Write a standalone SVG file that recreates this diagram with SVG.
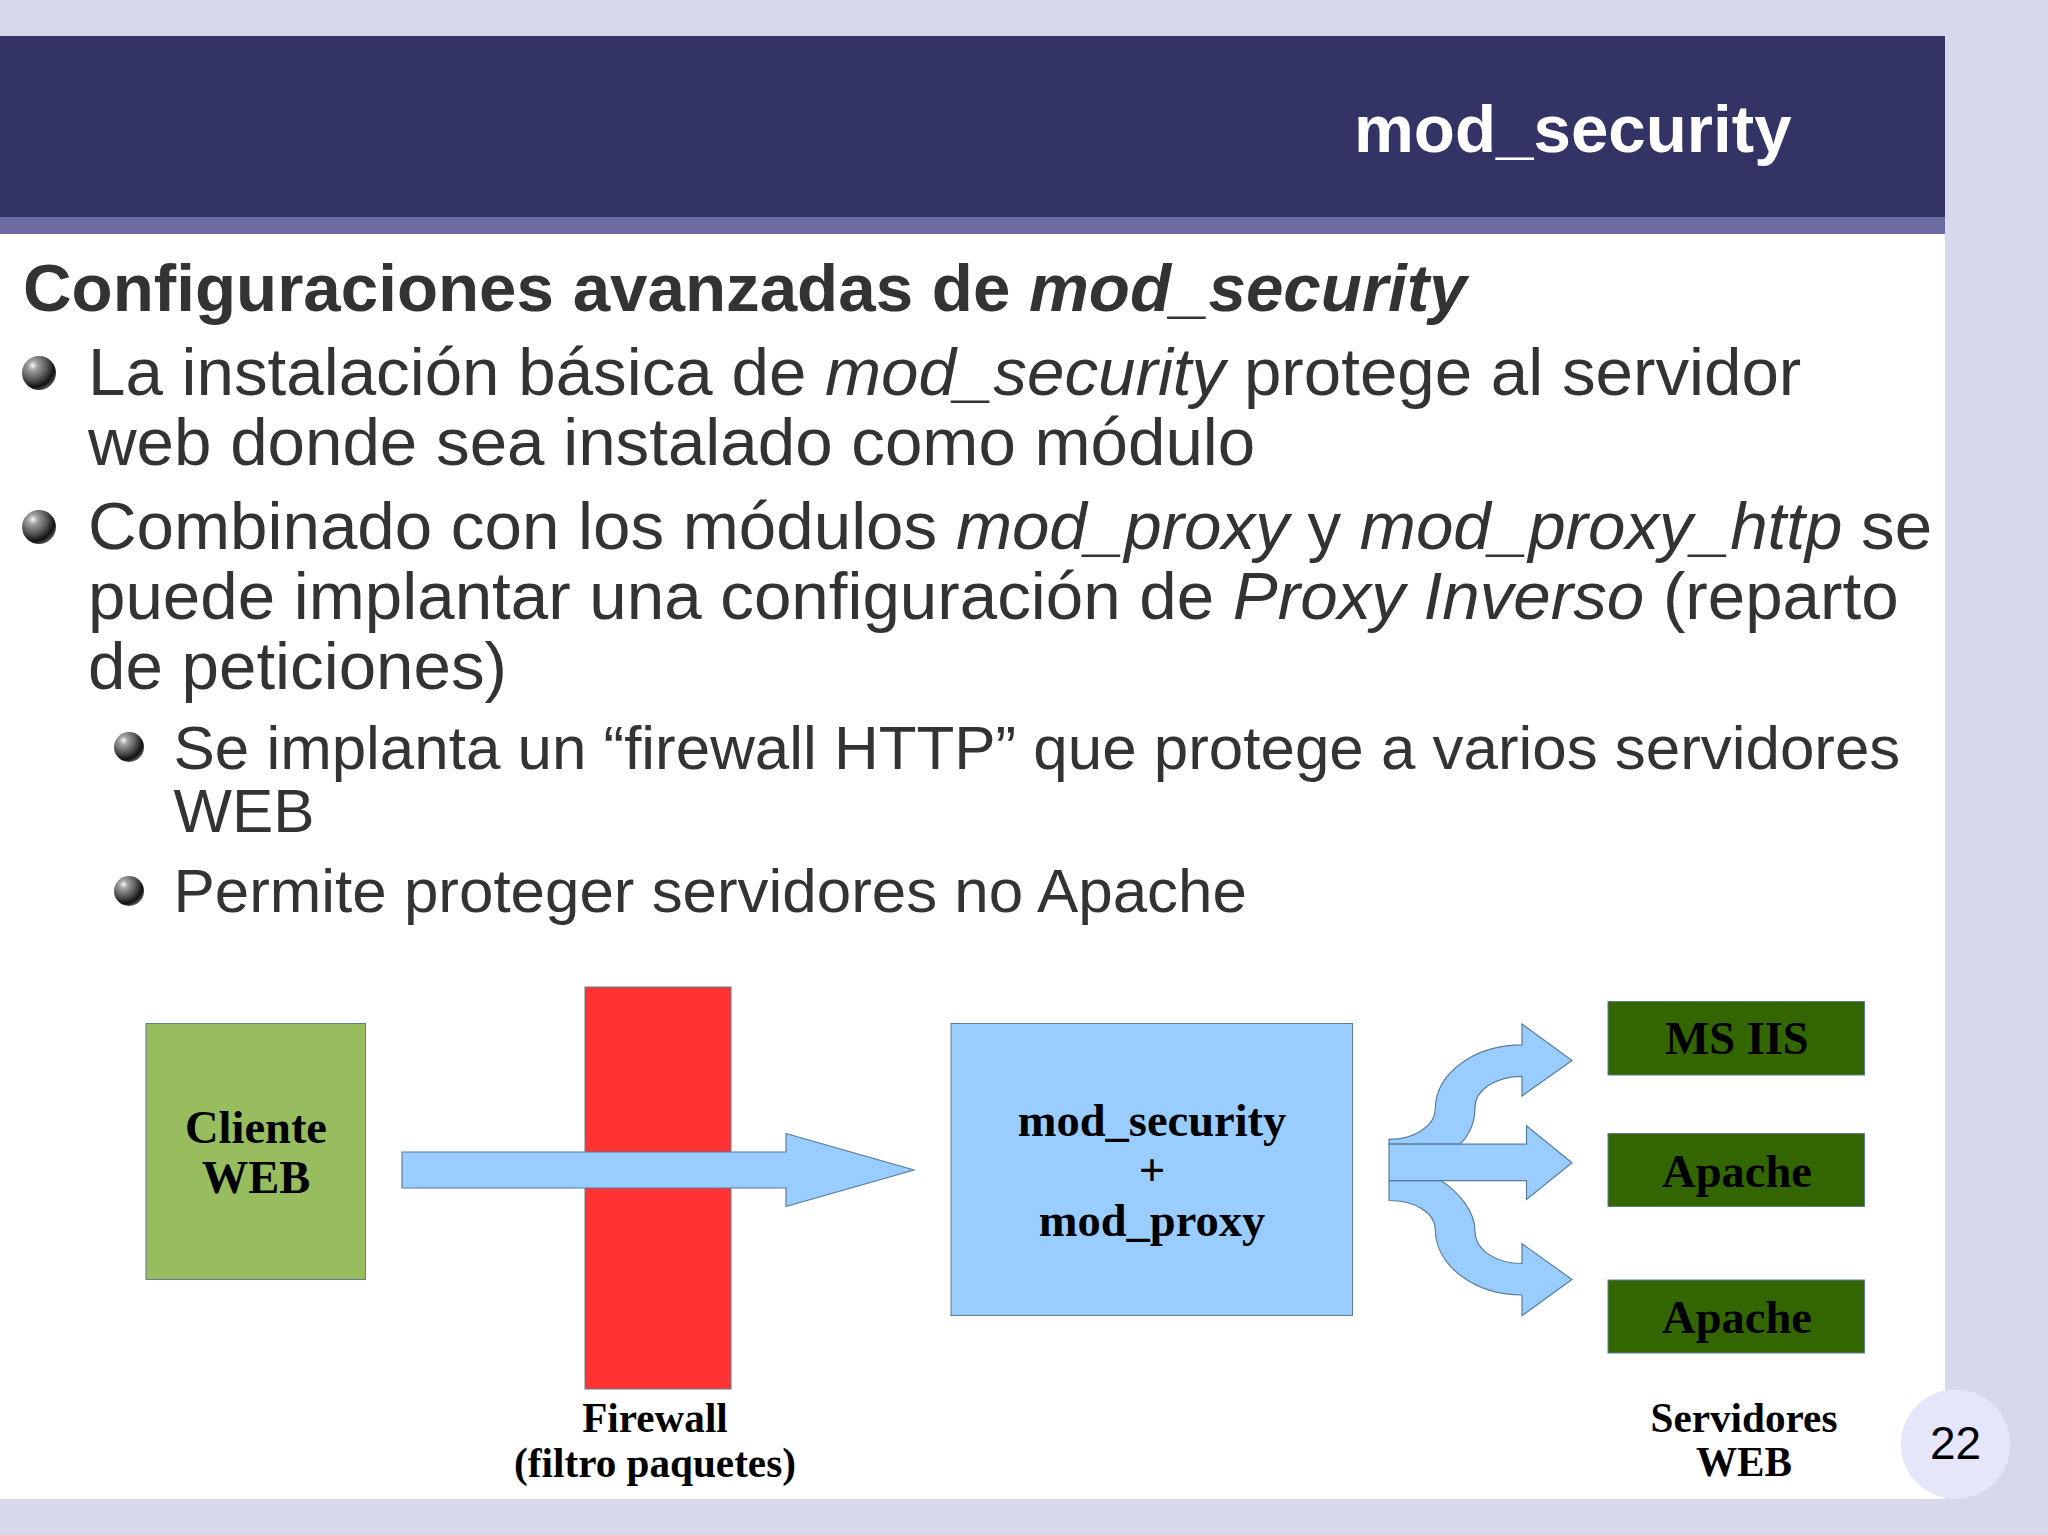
<svg xmlns="http://www.w3.org/2000/svg" width="2048" height="1535" viewBox="0 0 2048 1535">
<style>
.s{font-family:"Liberation Sans",Arial,sans-serif;fill:#333333}
.h{font-size:67.3px;font-weight:bold}
.b{font-size:67.3px}
.c{font-size:61.9px}
.d{font-family:"Liberation Serif","Times New Roman",serif;font-weight:bold;fill:#000;text-anchor:middle;font-size:46.5px}
.e{font-size:41.2px}
.i{font-style:italic}
.n{stroke:#5f7f8f;stroke-width:1}
.a{fill:#99ccff;stroke:#5a7d9c;stroke-width:1.2;stroke-linejoin:miter}
</style>
<defs>
<radialGradient id="ball" cx="0.32" cy="0.28" r="0.8">
<stop offset="0" stop-color="#f8f8f8"/><stop offset="0.18" stop-color="#a0a0a0"/><stop offset="0.5" stop-color="#5a5a5a"/><stop offset="0.8" stop-color="#111"/><stop offset="1" stop-color="#666"/>
</radialGradient>
</defs>
<rect width="2048" height="1535" fill="#d8d8ec"/>
<rect x="0" y="234" width="1945" height="1265" fill="#ffffff"/>
<rect x="0" y="36" width="1945" height="181" fill="#333366"/>
<rect x="0" y="217" width="1945" height="17" fill="#6b6ba1"/>
<text x="1354" y="152" font-family="'Liberation Sans',Arial,sans-serif" font-weight="bold" font-size="67.3" fill="#ffffff">mod_security</text>
<text class="s h" x="23" y="311">Configuraciones avanzadas de <tspan class="i">mod_security</tspan></text>
<circle cx="39" cy="373" r="17" fill="url(#ball)"/>
<text class="s b" x="88" y="395">La instalación básica de <tspan class="i">mod_security</tspan> protege al servidor</text>
<text class="s b" x="88" y="465">web donde sea instalado como módulo</text>
<circle cx="39" cy="527" r="17" fill="url(#ball)"/>
<text class="s b" x="88" y="549">Combinado con los módulos <tspan class="i">mod_proxy</tspan> y <tspan class="i">mod_proxy_http</tspan> se</text>
<text class="s b" x="88" y="619">puede implantar una configuración de <tspan class="i">Proxy Inverso</tspan> (reparto</text>
<text class="s b" x="88" y="689">de peticiones)</text>
<circle cx="129" cy="747" r="15" fill="url(#ball)"/>
<text class="s c" x="173.5" y="769">Se implanta un “firewall HTTP” que protege a varios servidores</text>
<text class="s c" x="173.5" y="832">WEB</text>
<circle cx="129" cy="891" r="15" fill="url(#ball)"/>
<text class="s c" x="173.5" y="912">Permite proteger servidores no Apache</text>

<g id="cliente">
<rect class="n" x="146" y="1023.5" width="219.5" height="256" fill="#97bd5f"/>
<text class="d" x="256" y="1143">Cliente</text>
<text class="d" x="256" y="1193">WEB</text>
</g>
<g id="firewall">
<rect class="n" x="585" y="987" width="146" height="402" fill="#ff3333"/>
<text class="d e" x="655" y="1432">Firewall</text>
<text class="d e" x="655" y="1477">(filtro paquetes)</text>
</g>
<g id="proxy">
<rect class="n" x="951" y="1023.5" width="401.5" height="292" fill="#99ccff"/>
<text class="d" x="1152" y="1136">mod_security</text>
<text class="d" x="1152" y="1186">+</text>
<text class="d" x="1152" y="1236">mod_proxy</text>
</g>
<g id="iis">
<rect class="n" x="1608" y="1001.5" width="256.5" height="73.5" fill="#336600"/>
<text class="d" x="1737" y="1054">MS IIS</text>
</g>
<g id="apache1">
<rect class="n" x="1608" y="1133.5" width="256.5" height="73" fill="#336600"/>
<text class="d" x="1737" y="1187">Apache</text>
</g>
<g id="apache2">
<rect class="n" x="1608" y="1280" width="256.5" height="73" fill="#336600"/>
<text class="d" x="1737" y="1333">Apache</text>
</g>
<g id="servidores">
<text class="d e" x="1744" y="1432">Servidores</text>
<text class="d e" x="1744" y="1476">WEB</text>
</g>
<g id="pagina">
<ellipse cx="1955.6" cy="1444.3" rx="54.7" ry="54.7" fill="#e6e6fa"/>
<text x="1955.5" y="1459" font-family="'Liberation Sans',Arial,sans-serif" font-size="46" fill="#000" text-anchor="middle">22</text>
</g>
<g id="connectors">
<path class="a" d="M402 1152H786V1133.5L914 1170L786 1206.5V1188H402Z"/>
<path class="a" d="M1389 1144.2V1139.3C1414.5 1139.3 1435.3 1125.7 1435.3 1109C1435.3 1073.7 1474 1044.8 1522 1044.8V1024L1572 1060.4L1522 1096V1076.3C1496 1076.3 1475 1090 1475 1107.4C1475 1122 1469 1135 1460 1144.2Z"/>
<path class="a" d="M1389 1180.7V1200.5C1414.5 1200.5 1435.3 1212.7 1435.3 1229.6C1435.3 1265 1474 1295 1522 1295V1315.6L1572 1279.5L1522 1243.7V1263.5C1496 1263.5 1475 1250 1475 1231C1475 1212 1459 1192 1441 1180.7Z"/>
<path class="a" d="M1389 1144.2H1526.5V1125.8L1572 1162.7L1526.5 1199.5V1180.7H1389Z"/>
</g>
</svg>
